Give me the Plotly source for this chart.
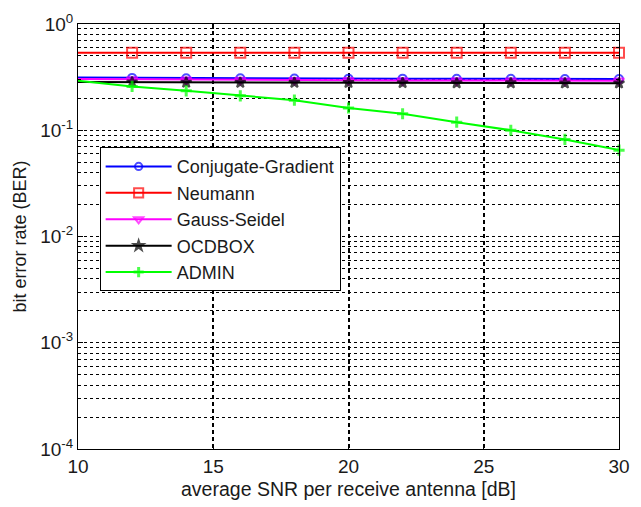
import plotly.graph_objects as go

snr = [10, 12, 14, 16, 18, 20, 22, 24, 26, 28, 30]
ber_cg = [0.313, 0.311, 0.309, 0.308, 0.307, 0.306, 0.306, 0.305, 0.305, 0.304, 0.304]
ber_neumann = [0.536, 0.536, 0.536, 0.536, 0.536, 0.536, 0.536, 0.536, 0.536, 0.536, 0.536]
ber_gs = [0.303, 0.301, 0.298, 0.297, 0.296, 0.295, 0.294, 0.294, 0.293, 0.293, 0.293]
ber_ocdbox = [0.284, 0.283, 0.282, 0.281, 0.281, 0.280, 0.279, 0.278, 0.278, 0.277, 0.277]
ber_admin = [0.293, 0.258, 0.235, 0.211, 0.192, 0.162, 0.143, 0.119, 0.100, 0.082, 0.065]

y_tickvals = [1e-4, 1e-3, 1e-2, 1e-1, 1]
y_ticktext = ["10<sup>-4</sup>", "10<sup>-3</sup>", "10<sup>-2</sup>", "10<sup>-1</sup>", "10<sup>0</sup>"]
y_minorvals = [m * d for d in [1e-4, 1e-3, 1e-2, 1e-1] for m in range(2, 10)]

series = [
    ("Conjugate-Gradient", ber_cg, "#0000ff", "circle-open", 8),
    ("Neumann", ber_neumann, "#ff0000", "square-open", 10),
    ("Gauss-Seidel", ber_gs, "#ff00ff", "triangle-down-open", 9),
    ("OCDBOX", ber_ocdbox, "#000000", "star", 8),
    ("ADMIN", ber_admin, "#00ff00", "cross-thin", 8),
]

fig = go.Figure()
for i, (name, vals, col, sym, sz) in enumerate(series):
    sizes = [0] + [sz] * (len(snr) - 1)
    fig.add_trace(go.Scatter(
        x=snr, y=vals, name=name, mode="lines+markers",
        line=dict(color=col, width=2),
        marker=dict(symbol=sym, size=sizes, color=col,
                    line=dict(color=col, width=3 if sym == "cross-thin" else 2)),
        cliponaxis=False, legendgroup=str(i),
    ))

font = "Liberation Sans, Arial, sans-serif"
dash = "3px,3px"
fig.update_layout(
    width=641, height=507,
    margin=dict(l=78, r=11, t=22, b=57),
    paper_bgcolor="white", plot_bgcolor="white",
    font=dict(family=font, size=19, color="#1a1a1a"),
    showlegend=True,
    legend=dict(
        x=0.04, y=0.71, xanchor="left", yanchor="top",
        bordercolor="black", borderwidth=1, bgcolor="white",
        font=dict(family=font, size=18, color="#1a1a1a"),
        tracegroupgap=0, itemwidth=66,
    ),
    xaxis=dict(
        range=[10, 30], dtick=5, tick0=10,
        showline=True, linecolor="black", linewidth=1, mirror="ticks",
        ticks="inside", ticklen=5, tickcolor="black",
        showgrid=True, gridcolor="black", griddash="4px,3px", gridwidth=1.6,
        zeroline=False,
        title=dict(text="average SNR per receive antenna [dB]", standoff=6,
                   font=dict(family=font, size=19.5)),
        tickfont=dict(family=font, size=19),
    ),
    yaxis=dict(
        type="log", range=[-4, 0],
        tickmode="array", tickvals=y_tickvals, ticktext=y_ticktext,
        showline=True, linecolor="black", linewidth=1, mirror="ticks",
        ticks="inside", ticklen=5, tickcolor="black",
        showgrid=True, gridcolor="black", griddash=dash, gridwidth=1,
        minor=dict(tickmode="array", tickvals=y_minorvals,
                   showgrid=True, gridcolor="black", griddash=dash, gridwidth=1,
                   ticks="inside", ticklen=3, tickcolor="black"),
        zeroline=False, ticklabeloverflow="allow",
        title=dict(text="bit error rate (BER)", standoff=8,
                   font=dict(family=font, size=18)),
        tickfont=dict(family=font, size=19),
    ),
)

fig.write_html("out.html")
